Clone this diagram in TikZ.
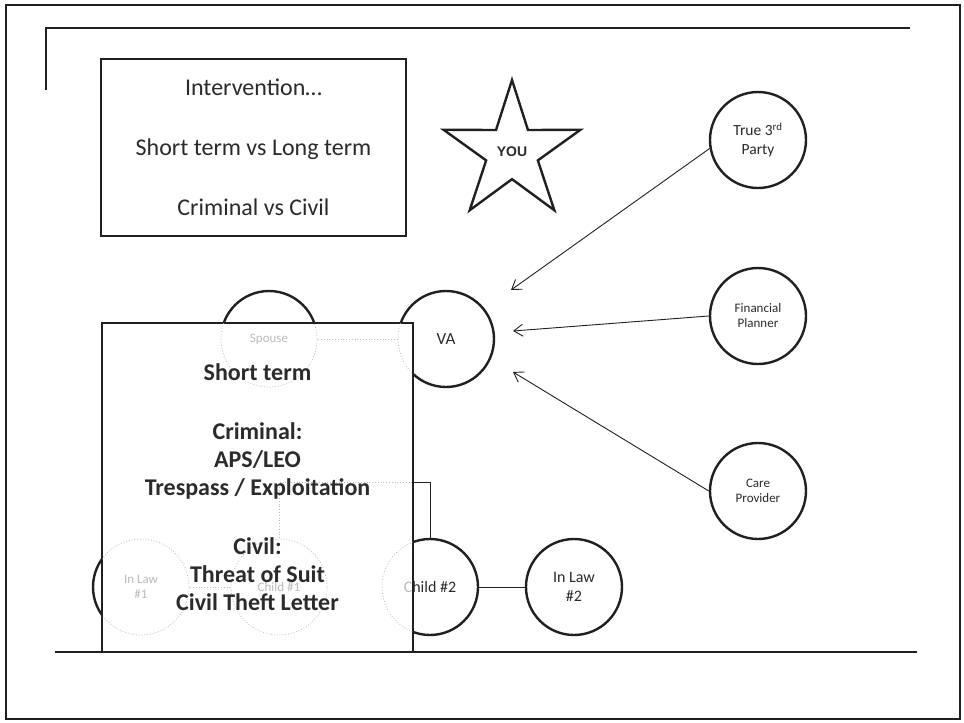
\documentclass[tikz,border=0pt]{standalone}
\usepackage{fontspec}
\setmainfont{Carlito}
\newfontfamily\arialfont{Liberation Sans}
\usetikzlibrary{shapes.geometric,arrows.meta}
\definecolor{ink}{HTML}{231F20}
\definecolor{txt}{HTML}{2B2B2B}
\definecolor{ghostc}{HTML}{BBBBBB}

\begin{document}
\begin{tikzpicture}[x=1pt,y=-1pt,
  person/.style={circle, draw=ink, line width=2.4pt, fill=white, minimum size=96pt,
    inner sep=0pt, align=center, text=txt, font=\fontsize{13}{15}\selectfont},
  link/.style={draw=ink, line width=0.9pt},
  pointer/.style={draw=ink, line width=0.9pt, -{Straight Barb[length=9pt,width=12pt]}},
  ghost/.style={draw=ghostc, line width=0.8pt, dotted},
  ghosttext/.style={text=ghostc, align=center, font=\fontsize{13}{15}\selectfont},
  panel/.style={draw=ink, fill=white, inner sep=0pt}
]
\useasboundingbox (0,0) rectangle (964,723);

% slide frame and rules
\draw[ink, line width=1.8pt] (6,5) rectangle (960,719);
\draw[ink, line width=1.5pt] (46,90) -- (46,28) -- (910,28);
\draw[ink, line width=1.8pt] (55,652) -- (917,652);

% title panel
\node[panel, line width=2pt, minimum width=305pt, minimum height=177pt, text=txt,
      font=\fontsize{24}{29}\selectfont, align=center] (intervention) at (253.5,147.5)
  {Intervention…\\[31pt]Short term vs Long term\\[31pt]Criminal vs Civil};

% the star
\node[star, star points=5, star point ratio=2.65, minimum size=144pt, draw=ink,
      line width=2.4pt, inner sep=0pt, text=txt,
      font=\arialfont\bfseries\fontsize{14}{16}\selectfont] (you) at (512,152) {YOU};

% people
\node[person, font=\fontsize{15.5}{19}\selectfont] (third) at (758,140) {True 3\textsuperscript{rd}\\Party};
\node[person] (planner) at (758,316) {Financial\\Planner};
\node[person] (carer) at (758,491) {Care\\Provider};
\node[person, font=\fontsize{17}{19}\selectfont] (va) at (446,339) {VA};
\node[person] (spouse) at (269,339) {Spouse};
\node[person] (inlaw1) at (141,587) {In Law\\\#1};
\node[person] (child1) at (279,587) {Child \#1};
\node[person, font=\fontsize{16}{19}\selectfont] (child2) at (430,587) {Child \#2};
\node[person, font=\fontsize{16}{19}\selectfont] (inlaw2) at (574,587) {In Law\\\#2};

% arrows towards the VA
\coordinate (tipA) at (511,290);
\coordinate (tipB) at (513,331);
\coordinate (tipC) at (513,372);
\draw[pointer] (third.190) -- (tipA);
\draw[pointer] (planner.west) -- (tipB);
\draw[pointer] (carer.west) -- (tipC);

% family links
\draw[link] (child2) -- (inlaw2);
\draw[link] (child2.north) -- ++(0,-55) -| (child1.north);
\draw[link] (spouse) -- (va);
\draw[link] (inlaw1) -- (child1);

% short-term panel
\node[panel, line width=2.4pt, minimum width=311pt, minimum height=329pt] (plan) at (257.5,487.5) {};

% faint outlines showing through the panel
\begin{scope}
  \clip ([shift={(1.3,-1.3)}]plan.south west) rectangle ([shift={(-1.3,1.3)}]plan.north east);
  \draw[ghost] (spouse.center) circle[radius=48pt];
  \draw[ghost] (va.center) circle[radius=48pt];
  \draw[ghost] (inlaw1.center) circle[radius=48pt];
  \draw[ghost] (child1.center) circle[radius=48pt];
  \draw[ghost] (child2.center) circle[radius=48pt];
  \draw[ghost] (spouse.east) -- (va.west);
  \draw[ghost] (inlaw1.east) -- (child1.west);
  \draw[ghost] (child2.north) -- ++(0,-55) -| (child1.north);
  \node[ghosttext] (spouseghost) at (spouse) {Spouse};
  \node[ghosttext] (inlawghost) at (inlaw1) {In Law\\\#1};
  \node[ghosttext] (childghost) at (child1) {Child \#1};
  \node[ghosttext, font=\fontsize{16}{19}\selectfont] (childtwoghost) at (child2) {Child \#2};
\end{scope}

\node[text=txt, align=center, font=\bfseries\fontsize{24}{28}\selectfont] (plantext) at (plan)
  {Short term\\[31pt]Criminal:\\APS/LEO\\Trespass / Exploitation\\[31pt]Civil:\\Threat of Suit\\Civil Theft Letter};
\end{tikzpicture}
\end{document}
